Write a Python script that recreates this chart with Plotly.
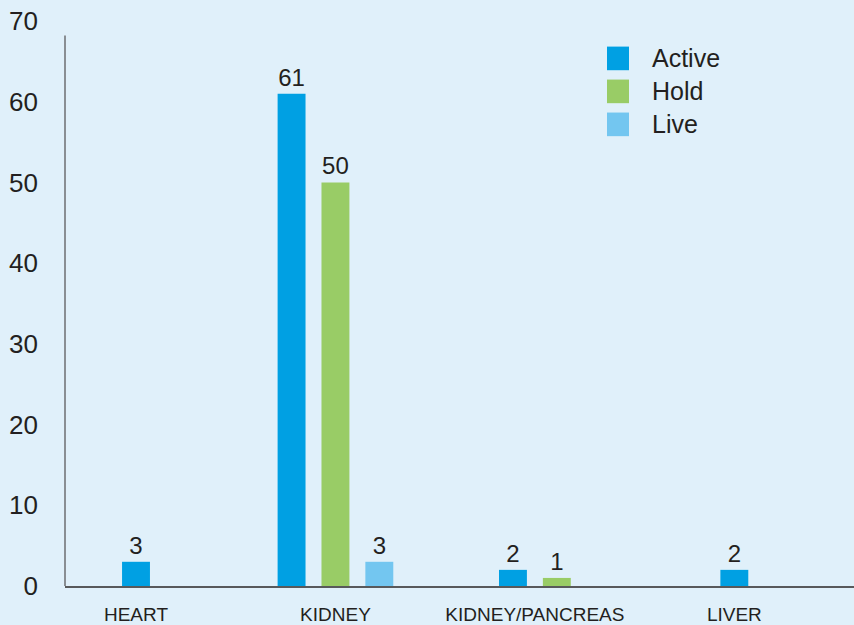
import plotly.graph_objects as go

categories = ["HEART", "KIDNEY", "KIDNEY/PANCREAS", "LIVER"]
series_names = ["Active", "Hold", "Live"]
active = [3, 61, 2, 2]
hold = [None, 50, 1, None]
live = [None, 3, None, None]
y_ticks = [0, 10, 20, 30, 40, 50, 60, 70]

series_values = [active, hold, live]
colors = ["#00a0e3", "#99cc66", "#73c6f0"]
BG = "#e0f0fa"
TXT = "#231f20"
FONT = "Liberation Sans, Arial, sans-serif"

bar_w = 0.14
step = 0.22

# offsets: center only the bars that are present in each category
offsets = [[None] * len(categories) for _ in series_values]
for ci in range(len(categories)):
    present = [si for si, vals in enumerate(series_values) if vals[ci] is not None]
    n = len(present)
    for j, si in enumerate(present):
        offsets[si][ci] = (j - (n - 1) / 2) * step - bar_w / 2

fig = go.Figure()
for si, (name, vals) in enumerate(zip(series_names, series_values)):
    offs = [o if o is not None else 0 for o in offsets[si]]
    fig.add_trace(go.Bar(
        x=categories, y=vals, name=name,
        marker=dict(color=colors[si], line=dict(width=0)),
        width=bar_w, offset=offs,
        text=[str(v) if v is not None else "" for v in vals],
        textposition="outside", cliponaxis=False,
        textfont=dict(size=24, color=TXT, family=FONT),
        showlegend=False,
    ))

# axis line for y (stops a bit below the top tick, as in the reference)
fig.add_shape(type="line", xref="paper", yref="y", x0=0, x1=0, y0=0, y1=68.2,
              line=dict(color="#6d6e71", width=1.5))

# manual legend
L, T, B = 65, 21, 30
W, H = 854 - L, 625 - T - B
def px_x(p):
    return (p - L) / W
def px_y(p):
    return (T + H - p) / H
for i, name in enumerate(series_names):
    top = 47 + i * 33.5
    fig.add_shape(type="rect", xref="paper", yref="paper",
                  x0=px_x(607), x1=px_x(629), y0=px_y(top + 24), y1=px_y(top),
                  fillcolor=colors[i], line=dict(width=0))
    fig.add_annotation(xref="paper", yref="paper", x=px_x(650), y=px_y(top + 12),
                       text=name, showarrow=False, xanchor="left", yanchor="middle",
                       font=dict(size=25, color=TXT, family=FONT))

fig.update_layout(
    width=854, height=625,
    margin=dict(l=L, r=0, t=T, b=B, pad=0),
    paper_bgcolor=BG, plot_bgcolor=BG,
    barmode="overlay",
    font=dict(family=FONT, color=TXT),
    xaxis=dict(type="category", range=[-0.356, 3.6], showline=True,
               linecolor="#58595b", linewidth=2, showgrid=False, zeroline=False,
               ticks="", ticklabelstandoff=10,
               tickfont=dict(size=19, color=TXT, family=FONT)),
    yaxis=dict(range=[0, 70], tickvals=y_ticks, showgrid=False, zeroline=False,
               showline=False, ticks="", ticklabelstandoff=26,
               tickfont=dict(size=26, color=TXT, family=FONT)),
)

fig.write_html("out.html", config={"displayModeBar": False},
               post_script="document.body.style.margin='0';document.body.style.background='#e0f0fa';")
